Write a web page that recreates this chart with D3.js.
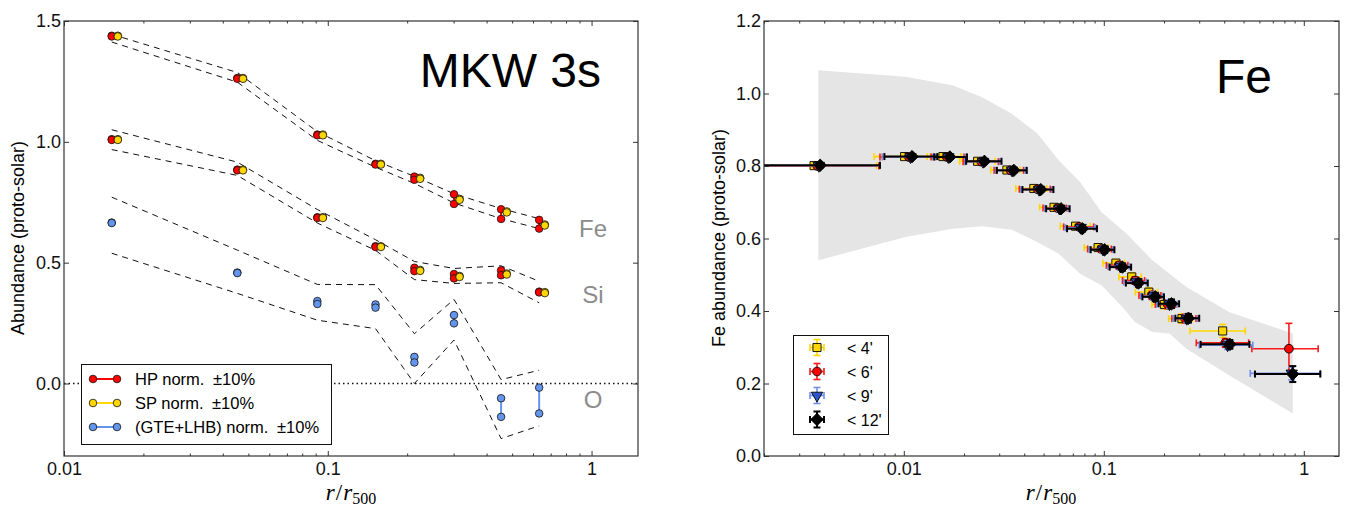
<!DOCTYPE html>
<html lang="en">
<head>
    <meta charset="UTF-8">
    <script src="https://d3js.org/d3.v7.min.js"></script>
    <title>MKW 3s abundance profiles</title>
    <style>
        body { margin: 0; background: white; }
        svg { display: block; font-family: "Liberation Sans", Arial, sans-serif; }
        .frame { fill: none; stroke: #333; stroke-width: 1.2px; }
        .axis path { display: none; }
        .axis line { stroke: #333; stroke-width: 1px; }
        .axis text { font-size: 18px; fill: #111; font-family: "Liberation Sans", Arial, sans-serif; }
        .env { fill: none; stroke: #111; stroke-width: 1px; stroke-dasharray: 6,5; }
    </style>
</head>
<body>
<div id="chart"></div>
<script>
    /*------------------- left panel data (MKW 3s) --------------------*/
    const radiiHP = [0.01517, 0.0454, 0.0913, 0.1517, 0.213, 0.301, 0.454, 0.633];
    const radiiSP = [0.0160, 0.0477, 0.0958, 0.159, 0.224, 0.316, 0.477, 0.665];

    const feHPhi = [1.439, 1.264, 1.030, 0.909, 0.856, 0.783, 0.721, 0.677];
    const feHPlo = [1.436, 1.261, 1.027, 0.906, 0.843, 0.743, 0.681, 0.641];
    const feSPhi = [1.439, 1.264, 1.030, 0.909, 0.851, 0.764, 0.712, 0.658];
    const feSPlo = [1.436, 1.261, 1.027, 0.906, 0.847, 0.760, 0.708, 0.654];
    const siHPhi = [1.011, 0.885, 0.688, 0.568, 0.479, 0.453, 0.468, 0.380];
    const siHPlo = [1.008, 0.882, 0.685, 0.565, 0.465, 0.435, 0.448, 0.377];
    const siSPhi = [1.011, 0.885, 0.688, 0.568, 0.470, 0.445, 0.455, 0.378];
    const siSPlo = [1.008, 0.882, 0.685, 0.565, 0.466, 0.441, 0.451, 0.374];
    const oGTEhi = [0.666, 0.459, 0.341, 0.327, 0.110, 0.283, -0.061, -0.017];
    const oGTElo = [0.664, 0.457, 0.329, 0.314, 0.087, 0.249, -0.138, -0.124];

    // dashed envelopes
    const feUpper = [1.445, 1.287, 1.042, 0.922, 0.857, 0.785, 0.724, 0.682];
    const feLower = [1.413, 1.247, 1.006, 0.895, 0.828, 0.747, 0.682, 0.641];
    const siUpper = [1.050, 0.916, 0.720, 0.595, 0.505, 0.476, 0.487, 0.423];
    const siLower = [0.968, 0.861, 0.664, 0.551, 0.430, 0.414, 0.417, 0.334];
    const oUpper = [0.771, 0.552, 0.410, 0.409, 0.206, 0.348, 0.016, 0.055];
    const oLower = [0.539, 0.373, 0.262, 0.227, 0.000, 0.180, -0.228, -0.175];

    const leftLegend = ["HP norm. ", "SP norm. ", "(GTE+LHB) norm. "];

    /*------------------- right panel data (Fe) --------------------*/
    const bandTopX = [0.00374, 0.0102, 0.0175, 0.0246, 0.0347, 0.0467, 0.0595, 0.0761, 0.0973, 0.130, 0.175, 0.259, 0.423, 0.881];
    const bandTopY = [1.064, 1.046, 1.023, 0.990, 0.944, 0.889, 0.816, 0.756, 0.673, 0.613, 0.540, 0.466, 0.397, 0.338];
    const bandBotX = [0.00374, 0.0102, 0.0175, 0.0246, 0.0347, 0.0467, 0.0595, 0.0761, 0.0973, 0.124, 0.143, 0.175, 0.213, 0.259, 0.423, 0.881];
    const bandBotY = [0.540, 0.604, 0.627, 0.634, 0.624, 0.590, 0.558, 0.503, 0.471, 0.411, 0.370, 0.342, 0.338, 0.296, 0.223, 0.117];

    const yelX = [0.00356, 0.0101, 0.0157, 0.0234, 0.0328, 0.0447, 0.0564, 0.0723, 0.0937, 0.115, 0.138, 0.168, 0.201, 0.246, 0.393];
    const yelY = [0.801, 0.826, 0.826, 0.813, 0.789, 0.738, 0.686, 0.634, 0.575, 0.532, 0.494, 0.452, 0.418, 0.379, 0.345];
    const yelXlo = [0.0010, 0.0071, 0.0131, 0.0190, 0.0272, 0.0363, 0.0478, 0.0606, 0.0798, 0.099, 0.119, 0.144, 0.174, 0.211, 0.270];
    const yelXhi = [0.0073, 0.0136, 0.0193, 0.0286, 0.0382, 0.0519, 0.0625, 0.0856, 0.105, 0.127, 0.154, 0.186, 0.220, 0.278, 0.510];
    const yelYerr = [0.006, 0.006, 0.006, 0.006, 0.007, 0.007, 0.008, 0.009, 0.010, 0.010, 0.011, 0.012, 0.012, 0.013, 0.018];

    const redX = [0.00370, 0.0106, 0.0164, 0.0244, 0.0342, 0.0466, 0.0588, 0.0752, 0.0972, 0.119, 0.143, 0.174, 0.209, 0.255, 0.405, 0.843];
    const redY = [0.800, 0.825, 0.825, 0.812, 0.788, 0.736, 0.684, 0.632, 0.571, 0.526, 0.484, 0.443, 0.418, 0.379, 0.312, 0.296];
    const redXlo = [0.0010, 0.0076, 0.0137, 0.0198, 0.0283, 0.0378, 0.0497, 0.0630, 0.0830, 0.103, 0.124, 0.150, 0.181, 0.219, 0.290, 0.550];
    const redXhi = [0.0075, 0.0141, 0.0200, 0.0297, 0.0397, 0.0540, 0.0650, 0.0890, 0.109, 0.132, 0.160, 0.193, 0.229, 0.289, 0.530, 1.18];
    const redYerr = [0.006, 0.005, 0.005, 0.006, 0.006, 0.007, 0.007, 0.008, 0.009, 0.010, 0.010, 0.011, 0.012, 0.012, 0.012, 0.070];

    const bluX = [0.00376, 0.0108, 0.0167, 0.0249, 0.0348, 0.0475, 0.0600, 0.0766, 0.0991, 0.121, 0.146, 0.177, 0.213, 0.260, 0.416, 0.870];
    const bluY = [0.801, 0.825, 0.825, 0.812, 0.788, 0.735, 0.683, 0.630, 0.570, 0.523, 0.480, 0.441, 0.419, 0.379, 0.306, 0.228];
    const bluXlo = [0.0010, 0.0078, 0.0140, 0.0202, 0.0288, 0.0385, 0.0506, 0.0642, 0.0845, 0.105, 0.126, 0.153, 0.184, 0.223, 0.300, 0.540];
    const bluXhi = [0.0076, 0.0144, 0.0204, 0.0302, 0.0405, 0.0550, 0.0662, 0.0908, 0.111, 0.134, 0.163, 0.197, 0.233, 0.295, 0.556, 1.21];
    const bluYerr = [0.006, 0.005, 0.005, 0.006, 0.006, 0.007, 0.007, 0.008, 0.009, 0.010, 0.010, 0.011, 0.012, 0.012, 0.012, 0.018];

    const blkX = [0.00382, 0.0110, 0.0170, 0.0253, 0.0355, 0.0484, 0.0611, 0.0781, 0.101, 0.124, 0.149, 0.181, 0.218, 0.265, 0.427, 0.881];
    const blkY = [0.802, 0.826, 0.825, 0.813, 0.788, 0.735, 0.682, 0.627, 0.569, 0.521, 0.477, 0.439, 0.420, 0.380, 0.308, 0.226];
    const blkXlo = [0.0010, 0.0080, 0.0142, 0.0205, 0.0292, 0.0392, 0.0515, 0.0655, 0.0860, 0.107, 0.129, 0.156, 0.188, 0.228, 0.305, 0.570];
    const blkXhi = [0.0076, 0.0147, 0.0207, 0.0308, 0.0412, 0.0560, 0.0675, 0.0925, 0.113, 0.137, 0.166, 0.200, 0.238, 0.300, 0.535, 1.21];
    const blkYerr = [0.006, 0.005, 0.005, 0.006, 0.006, 0.007, 0.007, 0.008, 0.009, 0.010, 0.010, 0.011, 0.012, 0.012, 0.012, 0.022];

    const rightLegend = ["< 4'", "< 6'", "< 9'", "< 12'"];

    /*------------------- svg --------------------*/
    const svg = d3.select("#chart").append("svg")
        .attr("width", 1349)
        .attr("height", 508);

    const plotTop = 21, plotBottom = 456;
    const xL = d3.scaleLog().domain([0.01, 1.5]).range([64, 638]);
    const yL = d3.scaleLinear().domain([-0.3, 1.5]).range([plotBottom, plotTop]);
    const xR = d3.scaleLog().domain([0.002, 1.5]).range([764, 1339]);
    const yR = d3.scaleLinear().domain([0, 1.2]).range([plotBottom, plotTop]);

    const defs = svg.append("defs");
    defs.append("clipPath").attr("id", "clipL").append("rect")
        .attr("x", 64).attr("y", plotTop).attr("width", 574).attr("height", plotBottom - plotTop);
    defs.append("clipPath").attr("id", "clipR").append("rect")
        .attr("x", 764).attr("y", plotTop).attr("width", 575).attr("height", plotBottom - plotTop);

    // inward ticks on all four sides
    function drawAxes(x, y, yTicks, fmt) {
        const isDecade = d => Math.abs(Math.log10(d) - Math.round(Math.log10(d))) < 1e-6;
        const minor = x.ticks().filter(d => !isDecade(d));
        const major = x.ticks().filter(isDecade);
        const [x0, x1] = x.range();
        const logFmt = d => d >= 1 ? "1" : String(+d.toPrecision(1));
        svg.append("g").attr("class", "axis").attr("transform", `translate(0,${plotBottom})`)
            .call(d3.axisBottom(x).tickValues(major).tickSize(-5).tickPadding(6).tickFormat(logFmt));
        svg.append("g").attr("class", "axis").attr("transform", `translate(0,${plotBottom})`)
            .call(d3.axisBottom(x).tickValues(minor).tickSize(-2.5).tickFormat(""));
        svg.append("g").attr("class", "axis").attr("transform", `translate(0,${plotTop})`)
            .call(d3.axisTop(x).tickValues(major).tickSize(-5).tickFormat(""));
        svg.append("g").attr("class", "axis").attr("transform", `translate(0,${plotTop})`)
            .call(d3.axisTop(x).tickValues(minor).tickSize(-2.5).tickFormat(""));
        svg.append("g").attr("class", "axis").attr("transform", `translate(${x0},0)`)
            .call(d3.axisLeft(y).tickValues(yTicks).tickSize(-5).tickPadding(3).tickFormat(fmt));
        svg.append("g").attr("class", "axis").attr("transform", `translate(${x1},0)`)
            .call(d3.axisRight(y).tickValues(yTicks).tickSize(-5).tickFormat(""));
        svg.append("rect").attr("class", "frame")
            .attr("x", x0).attr("y", plotTop).attr("width", x1 - x0).attr("height", plotBottom - plotTop);
    }

    function xTitle(cx) {
        const t = svg.append("text").attr("x", cx).attr("y", 500)
            .attr("text-anchor", "middle")
            .style("font-family", "'Liberation Serif', 'DejaVu Serif', serif");
        t.append("tspan").style("font-style", "italic").style("font-size", "23px").text("r");
        t.append("tspan").attr("dx", 1).style("font-size", "23px").text("/");
        t.append("tspan").attr("dx", 1).style("font-style", "italic").style("font-size", "23px").text("r");
        t.append("tspan").attr("dy", 4).style("font-size", "16px").text("500");
    }

    /*------------------- left panel --------------------*/
    const gL = svg.append("g").attr("clip-path", "url(#clipL)");

    // zero line
    gL.append("line")
        .attr("x1", 64).attr("x2", 638).attr("y1", yL(0)).attr("y2", yL(0))
        .attr("stroke", "#111").attr("stroke-width", 1.5).attr("stroke-dasharray", "1.5,3");

    const envLine = d3.line().x((d, i) => xL(radiiHP[i])).y(d => yL(d));
    [feUpper, feLower, siUpper, siLower, oUpper, oLower].forEach(arr => {
        gL.append("path").attr("class", "env").attr("d", envLine(arr));
    });

    function pairs(g, radii, hi, lo, color) {
        radii.forEach((r, i) => {
            g.append("line")
                .attr("x1", xL(r)).attr("x2", xL(r))
                .attr("y1", yL(hi[i])).attr("y2", yL(lo[i]))
                .attr("stroke", color).attr("stroke-width", 2);
            [hi[i], lo[i]].forEach(v => {
                g.append("circle").attr("cx", xL(r)).attr("cy", yL(v)).attr("r", 3.8)
                    .attr("fill", color).attr("stroke", "#111").attr("stroke-width", 0.8);
            });
        });
    }
    pairs(gL, radiiHP, oGTEhi, oGTElo, "#6495ED");
    pairs(gL, radiiHP, feHPhi, feHPlo, "#ff0000");
    pairs(gL, radiiHP, siHPhi, siHPlo, "#ff0000");
    pairs(gL, radiiSP, feSPhi, feSPlo, "#FFD700");
    pairs(gL, radiiSP, siSPhi, siSPlo, "#FFD700");

    // element labels
    [["Fe", 0.645], ["Si", 0.37], ["O", -0.065]].forEach(([t, v]) => {
        svg.append("text").attr("x", 593).attr("y", yL(v) + 9)
            .attr("text-anchor", "middle").attr("fill", "#8c8c8c")
            .style("font-size", "24px").text(t);
    });

    svg.append("text").attr("x", 601).attr("y", 87).attr("text-anchor", "end")
        .style("font-size", "48px").text("MKW 3s");

    // legend
    const legL = svg.append("g");
    legL.append("rect").attr("x", 81.5).attr("y", 364.5).attr("width", 250).attr("height", 80)
        .attr("fill", "white").attr("stroke", "#111").attr("stroke-width", 1);
    const legColors = ["#ff0000", "#FFD700", "#6495ED"];
    leftLegend.forEach((t, i) => {
        const cy = 379 + i * 24;
        legL.append("line").attr("x1", 93).attr("x2", 117).attr("y1", cy).attr("y2", cy)
            .attr("stroke", legColors[i]).attr("stroke-width", 2);
        [93, 117].forEach(cx => legL.append("circle").attr("cx", cx).attr("cy", cy).attr("r", 3.8)
            .attr("fill", legColors[i]).attr("stroke", "#111").attr("stroke-width", 0.8));
        const tx = legL.append("text").attr("x", 135).attr("y", cy + 6).style("font-size", "16.5px").text(t);
        tx.append("tspan").attr("dx", 4).text("±10%");
    });

    drawAxes(xL, yL, [0, 0.5, 1.0, 1.5], d3.format(".1f"));

    svg.append("text")
        .attr("transform", "translate(24,238) rotate(-90)")
        .attr("text-anchor", "middle").style("font-size", "18px")
        .text("Abundance (proto-solar)");
    xTitle(351);

    /*------------------- right panel --------------------*/
    const gR = svg.append("g").attr("clip-path", "url(#clipR)");

    const bandPts = bandTopX.map((x, i) => [xR(x), yR(bandTopY[i])])
        .concat(bandBotX.map((x, i) => [xR(x), yR(bandBotY[i])]).reverse());
    gR.append("path").attr("d", d3.line()(bandPts) + "Z").attr("fill", "#e5e5e5");

    const symbols = {
        square: d3.symbol().type(d3.symbolSquare).size(66),
        circle: d3.symbol().type(d3.symbolCircle).size(60),
        tri: d3.symbol().type(d3.symbolTriangle).size(56),
        diamond: d3.symbol().type(d3.symbolSquare).size(76)
    };

    function errSeries(g, xs, ys, xlo, xhi, yerr, errColor, fill, shape, lw) {
        xs.forEach((x, i) => {
            const px = xR(x), py = yR(ys[i]);
            const a = xR(xlo[i]), b = xR(xhi[i]);
            const y1 = yR(ys[i] + yerr[i]), y2 = yR(ys[i] - yerr[i]);
            const e = g.append("g").attr("stroke", errColor).attr("stroke-width", lw);
            e.append("line").attr("x1", a).attr("x2", b).attr("y1", py).attr("y2", py);
            e.append("line").attr("x1", a).attr("x2", a).attr("y1", py - 3.5).attr("y2", py + 3.5);
            e.append("line").attr("x1", b).attr("x2", b).attr("y1", py - 3.5).attr("y2", py + 3.5);
            e.append("line").attr("x1", px).attr("x2", px).attr("y1", y1).attr("y2", y2);
            e.append("line").attr("x1", px - 3.5).attr("x2", px + 3.5).attr("y1", y1).attr("y2", y1);
            e.append("line").attr("x1", px - 3.5).attr("x2", px + 3.5).attr("y1", y2).attr("y2", y2);
        });
        xs.forEach((x, i) => {
            let tr = `translate(${xR(x)},${yR(ys[i])})`;
            if (shape === "tri") tr += " rotate(180)";
            if (shape === "diamond") tr += " rotate(45)";
            g.append("path").attr("d", symbols[shape]()).attr("transform", tr)
                .attr("fill", fill).attr("stroke", "#000").attr("stroke-width", 0.9);
        });
    }

    errSeries(gR, yelX, yelY, yelXlo, yelXhi, yelYerr, "#FFD700", "#FFD700", "square", 1.6);
    errSeries(gR, redX, redY, redXlo, redXhi, redYerr, "#ff1a1a", "#ff0000", "circle", 1.6);
    errSeries(gR, bluX, bluY, bluXlo, bluXhi, bluYerr, "#6f8fe8", "#2d55cc", "tri", 1.6);
    errSeries(gR, blkX, blkY, blkXlo, blkXhi, blkYerr, "#000", "#000", "diamond", 2);

    svg.append("text").attr("x", 1272).attr("y", 93).attr("text-anchor", "end")
        .style("font-size", "48px").text("Fe");

    // legend
    const legR = svg.append("g");
    legR.append("rect").attr("x", 793.5).attr("y", 335.5).attr("width", 95).attr("height", 99)
        .attr("fill", "white").attr("stroke", "#111").attr("stroke-width", 1);
    const legStyle = [
        ["#FFD700", "#FFD700", "square"], ["#ff1a1a", "#ff0000", "circle"],
        ["#6f8fe8", "#2d55cc", "tri"], ["#000", "#000", "diamond"]
    ];
    rightLegend.forEach((t, i) => {
        const cy = 347.5 + i * 24, cx = 817;
        const [ec, fc, sh] = legStyle[i];
        const e = legR.append("g").attr("stroke", ec).attr("stroke-width", sh === "diamond" ? 2 : 1.6);
        e.append("line").attr("x1", cx - 7).attr("x2", cx + 7).attr("y1", cy).attr("y2", cy);
        e.append("line").attr("x1", cx - 7).attr("x2", cx - 7).attr("y1", cy - 3.5).attr("y2", cy + 3.5);
        e.append("line").attr("x1", cx + 7).attr("x2", cx + 7).attr("y1", cy - 3.5).attr("y2", cy + 3.5);
        e.append("line").attr("x1", cx).attr("x2", cx).attr("y1", cy - 8).attr("y2", cy + 8);
        e.append("line").attr("x1", cx - 3.5).attr("x2", cx + 3.5).attr("y1", cy - 8).attr("y2", cy - 8);
        e.append("line").attr("x1", cx - 3.5).attr("x2", cx + 3.5).attr("y1", cy + 8).attr("y2", cy + 8);
        let tr = `translate(${cx},${cy})`;
        if (sh === "tri") tr += " rotate(180)";
        if (sh === "diamond") tr += " rotate(45)";
        legR.append("path").attr("d", symbols[sh]()).attr("transform", tr)
            .attr("fill", fc).attr("stroke", "#000").attr("stroke-width", 0.9);
        legR.append("text").attr("x", 847).attr("y", cy + 6).style("font-size", "16px").text(t);
    });

    drawAxes(xR, yR, [0, 0.2, 0.4, 0.6, 0.8, 1.0, 1.2], d3.format(".1f"));

    svg.append("text")
        .attr("transform", "translate(725,238) rotate(-90)")
        .attr("text-anchor", "middle").style("font-size", "18px")
        .text("Fe abundance (proto-solar)");
    xTitle(1051);
</script>
</body>
</html>
